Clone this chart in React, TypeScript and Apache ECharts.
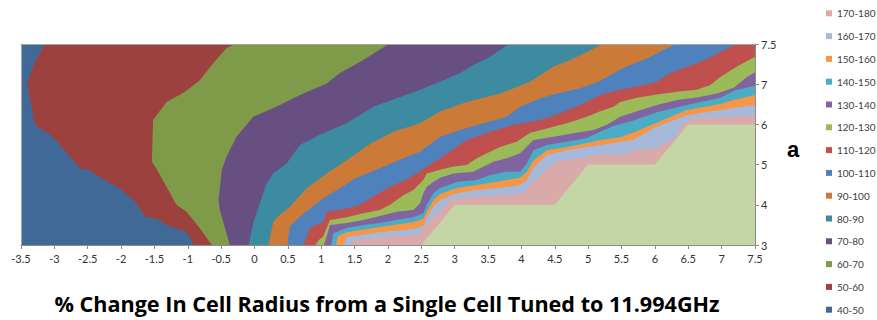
import React, { useEffect, useRef } from "react";
import * as echarts from "echarts";

// Axis ranges: x runs -3.5 .. 7.5 in steps of 0.5, the series axis holds six rows
const xMin = -3.5;
const xMax = 7.5;
const xStep = 0.5;
const yRows = [3, 4, 5, 6, 7, 7.5];

const bandNames = [
  "40-50", "50-60", "60-70", "70-80", "80-90", "90-100", "100-110",
  "110-120", "120-130", "130-140", "140-150", "150-160", "160-170",
  "170-180", "180-190",
];
const bandColors = [
  "#416998", "#9D413E", "#7F9B4A", "#675081", "#3D8BA0", "#CB7B37", "#4F81BD",
  "#C0504D", "#9BBB59", "#8064A2", "#4BACC6", "#F79646", "#A7B9DA",
  "#D9AAA9", "#C4D6A6",
];

// Contour lines [x, y], each running from the top/right edge down to the bottom edge.
const level50 = [[-3.14, 7.5], [-3.29, 7.28], [-3.41, 7.01], [-3.34, 6.44], [-3.29, 5.99], [-3.02, 5.69], [-2.81, 5.28], [-2.62, 4.91], [-2.49, 4.87], [-2.32, 4.7], [-1.99, 4.37], [-1.77, 4.04], [-1.64, 3.7], [-1.47, 3.66], [-1.27, 3.46], [-1.02, 3.33], [-0.91, 3]];
const level60 = [[-0.29, 7.5], [-0.42, 7.45], [-0.62, 7.26], [-0.82, 7.05], [-1.04, 6.81], [-1.32, 6.56], [-1.52, 6.11], [-1.54, 5.07], [-1.49, 4.95], [-1.32, 4.45], [-1.17, 4.0], [-1.02, 3.83], [-0.84, 3.46], [-0.64, 3]];
const level70 = [[2.01, 7.5], [1.63, 7.3], [1.28, 7.14], [1.08, 7.01], [0.68, 6.73], [0.38, 6.48], [-0.02, 6.19], [-0.27, 5.69], [-0.42, 5.2], [-0.49, 4.87], [-0.54, 4.12], [-0.52, 3.87], [-0.37, 3]];
const level80 = [[3.81, 7.5], [3.53, 7.34], [3.28, 7.24], [3.08, 7.14], [2.78, 7.03], [2.48, 6.86], [2.13, 6.65], [1.78, 6.44], [1.38, 6.03], [0.98, 5.74], [0.68, 5.49], [0.48, 5.03], [0.28, 4.78], [0.18, 4.53], [0.08, 4.04], [-0.02, 3.54], [-0.09, 3]];
const level90 = [[5.21, 7.5], [4.98, 7.4], [4.73, 7.3], [4.48, 7.22], [4.13, 7.03], [3.68, 6.77], [3.18, 6.56], [2.78, 6.32], [2.48, 6.03], [2.08, 5.82], [1.73, 5.51], [1.38, 5.11], [1.08, 4.78], [0.78, 4.41], [0.53, 3.95], [0.38, 3.75], [0.28, 3.58], [0.21, 3]];
const level100 = [[6.33, 7.5], [6.13, 7.43], [5.88, 7.32], [5.63, 7.24], [5.43, 7.16], [5.18, 7.04], [4.88, 6.9], [4.53, 6.77], [4.28, 6.65], [3.98, 6.44], [3.78, 6.19], [3.43, 6.03], [3.08, 5.86], [2.78, 5.69], [2.48, 5.32], [2.23, 5.16], [1.88, 4.91], [1.51, 4.66], [1.28, 4.41], [1.03, 4.16], [0.83, 3.91], [0.68, 3.7], [0.53, 3.46], [0.49, 3]];
const level110 = [[7.23, 7.5], [6.98, 7.4], [6.78, 7.31], [6.5, 7.22], [6.23, 7.14], [6.03, 7.03], [5.78, 6.96], [5.48, 6.86], [5.18, 6.73], [4.88, 6.48], [4.58, 6.28], [4.28, 6.11], [3.88, 5.99], [3.53, 5.82], [3.18, 5.61], [2.78, 5.16], [2.58, 4.95], [2.43, 4.78], [2.26, 4.62], [2.03, 4.45], [1.81, 4.24], [1.58, 4.0], [1.38, 3.91], [1.08, 3.83], [1.03, 3.58], [0.83, 3.42], [0.73, 3]];
const level120 = [[7.5, 7.34], [7.23, 7.22], [6.98, 7.09], [6.83, 6.98], [6.63, 6.86], [6.33, 6.81], [5.98, 6.73], [5.73, 6.66], [5.48, 6.56], [5.38, 6.44], [5.18, 6.33], [4.98, 6.19], [4.68, 6.03], [4.38, 5.9], [4.13, 5.79], [3.93, 5.57], [3.68, 5.44], [3.53, 5.32], [3.33, 5.16], [3.18, 4.99], [2.98, 4.95], [2.78, 4.87], [2.58, 4.78], [2.53, 4.62], [2.38, 4.37], [2.23, 4.24], [2.03, 4.0], [1.88, 3.87], [1.63, 3.79], [1.38, 3.69], [1.13, 3.62], [1.03, 3.21], [0.96, 3.12], [0.91, 3]];
const level130 = [[7.5, 7.15], [7.38, 7.09], [7.18, 6.91], [6.93, 6.77], [6.63, 6.67], [6.33, 6.61], [6.03, 6.48], [5.73, 6.33], [5.48, 6.19], [5.28, 5.99], [5.08, 5.86], [4.78, 5.78], [4.48, 5.69], [4.18, 5.61], [4.08, 5.45], [3.98, 5.28], [3.78, 5.16], [3.58, 5.07], [3.43, 4.95], [3.28, 4.82], [2.98, 4.78], [2.78, 4.67], [2.68, 4.57], [2.58, 4.45], [2.53, 4.29], [2.48, 4.04], [2.38, 3.87], [2.13, 3.83], [1.88, 3.72], [1.63, 3.62], [1.38, 3.55], [1.13, 3.5], [1.08, 3.21], [1.04, 3]];
const level140 = [[7.5, 6.96], [7.18, 6.84], [6.98, 6.66], [6.48, 6.48], [6.03, 6.3], [5.68, 6.1], [5.38, 5.96], [5.18, 5.82], [4.98, 5.66], [4.68, 5.57], [4.38, 5.49], [4.18, 5.36], [4.08, 5.03], [3.98, 4.82], [3.78, 4.82], [3.53, 4.74], [3.33, 4.62], [3.03, 4.57], [2.78, 4.42], [2.68, 4.29], [2.58, 4.0], [2.53, 3.79], [2.38, 3.69], [2.18, 3.64], [1.88, 3.55], [1.63, 3.5], [1.38, 3.42], [1.18, 3.29], [1.15, 3]];
const level150 = [[7.5, 6.73], [7.18, 6.61], [6.98, 6.51], [6.48, 6.36], [6.03, 6.05], [5.68, 5.8], [5.48, 5.68], [5.18, 5.61], [4.98, 5.54], [4.68, 5.44], [4.38, 5.36], [4.18, 5.11], [4.08, 4.82], [3.98, 4.67], [3.78, 4.62], [3.33, 4.49], [3.03, 4.42], [2.78, 4.27], [2.68, 4.12], [2.58, 3.82], [2.53, 3.65], [2.38, 3.57], [1.88, 3.45], [1.38, 3.32], [1.25, 3.22], [1.22, 3]];
const level160 = [[7.5, 6.48], [7.18, 6.41], [6.98, 6.36], [6.48, 6.23], [6.03, 5.95], [5.68, 5.62], [5.18, 5.49], [4.68, 5.36], [4.38, 5.24], [4.18, 4.92], [4.08, 4.62], [3.98, 4.49], [3.78, 4.44], [3.33, 4.37], [3.03, 4.29], [2.78, 4.12], [2.68, 3.95], [2.58, 3.67], [2.53, 3.47], [2.38, 3.4], [1.88, 3.32], [1.38, 3.2], [1.34, 3]];
const level170 = [[7.5, 6.23], [6.98, 6.18], [6.6, 6.16], [6.45, 6.05], [6.28, 5.64], [6.03, 5.41], [5.68, 5.36], [5.53, 5.24], [5.18, 5.24], [4.98, 5.19], [4.51, 5.07], [4.13, 4.49], [4.03, 4.29], [3.78, 4.24], [3.28, 4.2], [2.93, 4.12], [2.78, 3.83], [2.68, 3.7], [2.53, 3.42], [2.48, 3.25], [2.03, 3.21], [1.78, 3.17], [1.48, 3.12], [1.46, 3]];
const level180 = [[7.5, 6], [6.5, 6], [6, 5], [5, 5], [4.5, 4], [3, 4], [2.5, 3]];

const contourLines = [
  level50, level60, level70, level80, level90, level100, level110,
  level120, level130, level140, level150, level160, level170, level180,
];

const yTop = yRows[yRows.length - 1];
const yBottom = yRows[0];

// Position of a y value on the evenly spaced series axis
function toRow(y: number): number {
  for (let i = 0; i < yRows.length - 1; i++) {
    if (y <= yRows[i + 1]) {
      return i + (y - yRows[i]) / (yRows[i + 1] - yRows[i]);
    }
  }
  return yRows.length - 1;
}

// Region at or above a contour level: the line closed through the lower-right corner
function regionAbove(line: number[][]): number[][] {
  const pts = line.slice();
  pts.push([xMax, yBottom]);
  if (line[0][0] < xMax) pts.push([xMax, yTop]);
  return pts;
}

const regions: number[][][] = [
  [[xMin, yBottom], [xMax, yBottom], [xMax, yTop], [xMin, yTop]],
  ...contourLines.map(regionAbove),
];

const FONT = "Lato, 'Open Sans', sans-serif";
const TITLE_FONT = "'Open Sans', 'Noto Sans', sans-serif";

export default function App() {
  const ref = useRef<HTMLDivElement>(null);

  useEffect(() => {
    if (!ref.current) return;
    const chart = echarts.init(ref.current, undefined, { renderer: "svg" });

    const series = regions.map((poly, i) => ({
      type: "custom",
      name: bandNames[i],
      coordinateSystem: "cartesian2d",
      silent: true,
      z: 1,
      itemStyle: { color: bandColors[i] },
      data: [[poly[0][0], toRow(poly[0][1])]],
      renderItem: (_params: any, api: any) => ({
        type: "polygon",
        shape: { points: poly.map((p) => api.coord([p[0], toRow(p[1])])) },
        style: { fill: bandColors[i], stroke: null },
      }),
    }));

    const axisLineColor = "#8C8C8C";
    const borderColor = "#A6A6A6";

    chart.setOption({
      animation: false,
      backgroundColor: "#ffffff",
      title: [
        {
          text: "% Change In Cell Radius from a Single Cell Tuned to 11.994GHz",
          left: 382,
          top: 287,
          textAlign: "center",
          textStyle: { fontSize: 21.6, fontWeight: "bold", color: "#000", fontFamily: TITLE_FONT },
        },
        {
          text: "a",
          left: 782,
          top: 133,
          textStyle: { fontSize: 22, fontWeight: "bold", color: "#000", fontFamily: "'Liberation Sans', Arial, sans-serif" },
        },
      ],
      legend: {
        orient: "vertical",
        left: 826,
        top: 6.3,
        padding: 0,
        icon: "rect",
        itemWidth: 6,
        itemHeight: 6,
        itemGap: 8.8,
        selectedMode: false,
        textStyle: { fontSize: 10, lineHeight: 14, color: "#404040", fontFamily: FONT },
        data: bandNames
          .slice(0, 14)
          .map((name, i) => ({ name, itemStyle: { color: bandColors[i] } }))
          .reverse(),
      },
      grid: { left: 21, right: 122, top: 44, bottom: 75, containLabel: false },
      xAxis: [
        {
          type: "value",
          min: xMin,
          max: xMax,
          interval: xStep,
          position: "bottom",
          z: 5,
          axisLine: { show: true, onZero: false, lineStyle: { color: axisLineColor } },
          axisTick: { show: true, length: 4, lineStyle: { color: axisLineColor } },
          axisLabel: { fontSize: 11, color: "#333", margin: 8, fontFamily: FONT },
          splitLine: { show: false },
        },
        {
          type: "value",
          min: xMin,
          max: xMax,
          position: "top",
          z: 5,
          axisLine: { show: true, onZero: false, lineStyle: { color: borderColor } },
          axisTick: { show: false },
          axisLabel: { show: false },
          splitLine: { show: false },
        },
      ],
      yAxis: [
        {
          type: "value",
          min: 0,
          max: yRows.length - 1,
          interval: 1,
          position: "right",
          z: 5,
          axisLine: { show: true, onZero: false, lineStyle: { color: axisLineColor } },
          axisTick: { show: true, length: 4, lineStyle: { color: axisLineColor } },
          axisLabel: {
            fontSize: 11,
            color: "#333",
            margin: 6,
            fontFamily: FONT,
            formatter: (v: number) => String(yRows[Math.round(v)]),
          },
          splitLine: { show: false },
        },
        {
          type: "value",
          min: 0,
          max: yRows.length - 1,
          position: "left",
          z: 5,
          axisLine: { show: true, onZero: false, lineStyle: { color: borderColor } },
          axisTick: { show: false },
          axisLabel: { show: false },
          splitLine: { show: false },
        },
      ],
      series,
    });

    return () => chart.dispose();
  }, []);

  return (
    <div
      ref={ref}
      style={{ position: "absolute", left: 0, top: 0, width: 877, height: 320 }}
    />
  );
}
